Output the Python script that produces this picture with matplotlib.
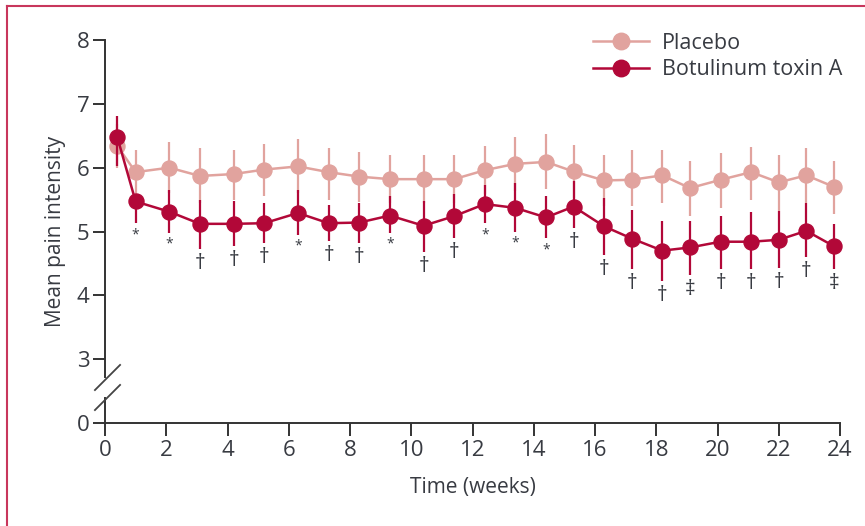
import matplotlib
matplotlib.use('Agg')
import matplotlib.pyplot as plt
from matplotlib.lines import Line2D
import numpy as np

plt.rcParams['font.family'] = ['Open Sans', 'DejaVu Sans']

# mean pain intensity by week, with 95% CI bounds
weeks = [0.4, 1.0, 2.1, 3.1, 4.2, 5.2, 6.3, 7.3, 8.3, 9.3, 10.4, 11.4, 12.4,
         13.4, 14.4, 15.3, 16.3, 17.2, 18.2, 19.1, 20.1, 21.1, 22.0, 22.9, 23.8]

placebo_mean = [6.34, 5.93, 6.00, 5.87, 5.90, 5.97, 6.02, 5.93, 5.86, 5.82, 5.82, 5.82, 5.96,
                6.06, 6.09, 5.94, 5.80, 5.81, 5.88, 5.68, 5.81, 5.93, 5.77, 5.88, 5.70]
placebo_low = [5.99, 5.55, 5.60, 5.45, 5.50, 5.55, 5.60, 5.50, 5.46, 5.44, 5.44, 5.44, 5.58,
               5.64, 5.66, 5.52, 5.40, 5.40, 5.45, 5.25, 5.37, 5.49, 5.32, 5.45, 5.27]
placebo_high = [6.69, 6.28, 6.40, 6.31, 6.28, 6.37, 6.45, 6.31, 6.24, 6.20, 6.20, 6.20, 6.34,
                6.48, 6.52, 6.36, 6.20, 6.28, 6.28, 6.11, 6.23, 6.33, 6.20, 6.31, 6.11]

botox_mean = [6.48, 5.47, 5.31, 5.12, 5.12, 5.13, 5.29, 5.13, 5.14, 5.25, 5.09, 5.24, 5.43,
              5.37, 5.22, 5.39, 5.08, 4.89, 4.70, 4.75, 4.84, 4.84, 4.87, 5.01, 4.77]
botox_low = [6.02, 5.13, 4.98, 4.73, 4.77, 4.82, 4.95, 4.85, 4.82, 4.98, 4.68, 4.90, 5.13,
             5.00, 4.90, 5.05, 4.63, 4.41, 4.23, 4.32, 4.42, 4.41, 4.43, 4.60, 4.41]
botox_high = [6.81, 5.56, 5.65, 5.50, 5.47, 5.45, 5.65, 5.42, 5.45, 5.55, 5.47, 5.59, 5.73,
              5.76, 5.55, 5.79, 5.53, 5.33, 5.17, 5.17, 5.25, 5.30, 5.32, 5.45, 5.11]

# significance vs placebo at each visit
signif = ['', '*', '*', '†', '†', '†', '*', '†', '†', '*', '†', '†', '*',
          '*', '*', '†', '†', '†', '†', '‡', '†', '†', '†', '†', '‡']

yticks = [0, 3, 4, 5, 6, 7, 8]
xticks = list(range(0, 25, 2))

PINK = '#e1a39e'
RED = '#b20838'
INK = '#383b42'
FRAME = '#c8365c'


def fwd(v):
    v = np.asarray(v, dtype=float)
    return np.where(v >= 3, v - 2, v / 3)


def inv(d):
    d = np.asarray(d, dtype=float)
    return np.where(d >= 1, d + 2, d * 3)


fig = plt.figure(figsize=(8.65, 5.26), dpi=100)
ax = fig.add_axes([105 / 865, 1 - 423 / 526, 735 / 865, 383 / 526])
ax.set_yscale('function', functions=(fwd, inv))

for mean, low, high, col, lab, z in [
        (placebo_mean, placebo_low, placebo_high, PINK, 'Placebo', 2),
        (botox_mean, botox_low, botox_high, RED, 'Botulinum toxin A', 4)]:
    mean = np.array(mean)
    yerr = [mean - np.array(low), np.array(high) - mean]
    ax.errorbar(weeks, mean, yerr=yerr, fmt='none', ecolor=col, elinewidth=1.6,
                capsize=0, zorder=z, clip_on=False)
    ax.plot(weeks, mean, '-o', color=col, lw=1.8, ms=10.8, mec=col, label=lab,
            zorder=z + 1, clip_on=False)

for x, lo, s in zip(weeks, botox_low, signif):
    if s:
        if s == '*':
            ax.annotate(s, xy=(x, lo), xytext=(0, -3), textcoords='offset points',
                        ha='center', va='top', fontsize=10, color=INK)
        else:
            ax.annotate(s, xy=(x, lo), xytext=(0, -3), textcoords='offset points',
                        ha='center', va='top', fontsize=15, color=INK)

ax.set_xlim(0, 24)
ax.set_ylim(0, 8)
ax.set_xticks(xticks)
ax.set_yticks(yticks)
ax.set_yticklabels([str(t) for t in yticks])
ax.yaxis.set_minor_locator(matplotlib.ticker.NullLocator())

for side in ['top', 'right', 'left']:
    ax.spines[side].set_visible(False)
ax.spines['bottom'].set_color('#333333')
ax.spines['bottom'].set_linewidth(1.4)
ax.tick_params(axis='both', direction='out', length=9, width=1.4, color='#333333',
               labelsize=16, labelcolor=INK)
ax.tick_params(axis='x', pad=3)
ax.tick_params(axis='y', pad=2)

# broken y axis between 0 and 3
ax.plot([0, 0], [0, 1.17], color='#333333', lw=1.4, clip_on=False, zorder=1)
ax.plot([0, 0], [2.16, 8], color='#333333', lw=1.4, clip_on=False, zorder=1)
ax.plot([0.05, 0.05], [1.24, 2.18], ls='none', marker=[(-1, -1), (1, 1)], ms=19,
        mec='#444444', mew=1.3, clip_on=False)

ax.set_xlabel('Time (weeks)', fontsize=15, color=INK, labelpad=12)
ax.set_ylabel('Mean pain intensity', fontsize=15, color=INK, labelpad=8)

ax.legend(loc='center left', bbox_to_anchor=(593 / 865, 1 - 56.7 / 526),
          bbox_transform=fig.transFigure, frameon=False, fontsize=15.5,
          borderpad=0, borderaxespad=0, handlelength=2.6, handletextpad=0.6,
          labelspacing=0.25, labelcolor=INK, markerscale=1.1)

# panel frame
fig.add_artist(Line2D([7 / 865, 7 / 865], [0, 1 - 6 / 526], color=FRAME, lw=1.5,
                      transform=fig.transFigure))
fig.add_artist(Line2D([7 / 865, 1], [1 - 6 / 526, 1 - 6 / 526], color=FRAME, lw=1.5,
                      transform=fig.transFigure))

fig.savefig('out.png', dpi=100)
